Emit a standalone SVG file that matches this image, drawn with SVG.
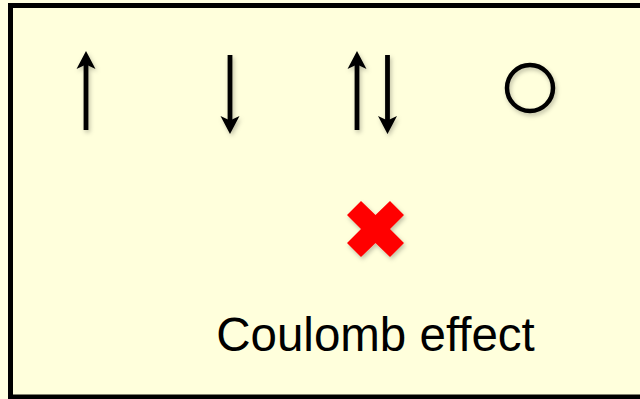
<svg xmlns="http://www.w3.org/2000/svg" width="640" height="399" viewBox="0 0 640 399">
<style>
.sh{stroke:#000;stroke-width:4.8;fill:none}
.hd{fill:#000}
.lbl{font-family:"Liberation Sans",Arial,sans-serif;font-size:47.5px;fill:#000}
</style>
<defs>
<filter id="ds" x="-50%" y="-50%" width="200%" height="200%">
<feDropShadow dx="1.5" dy="2.5" stdDeviation="2" flood-color="#000" flood-opacity="0.25"/>
</filter>
</defs>
<rect x="0" y="0" width="640" height="399" fill="#FFFFE0"/>
<rect id="frame" x="10.5" y="5.5" width="660" height="391.5" fill="#FFFFDC" stroke="#000" stroke-width="5"/>
<g id="connectors" filter="url(#ds)">
<g id="up1"><line class="sh" x1="86" y1="130" x2="86" y2="62"/><polygon class="hd" points="86,51 95.5,69 86,64.5 76.5,69"/></g>
<g id="down1"><line class="sh" x1="230" y1="55" x2="230" y2="123"/><polygon class="hd" points="230,134 239.5,116 230,120.5 220.5,116"/></g>
<g id="up2"><line class="sh" x1="357" y1="130" x2="357" y2="62"/><polygon class="hd" points="357,51 366.5,69 357,64.5 347.5,69"/></g>
<g id="down2"><line class="sh" x1="387.5" y1="55" x2="387.5" y2="123"/><polygon class="hd" points="387.5,134 397,116 387.5,120.5 378,116"/></g>
</g>
<g id="empty" filter="url(#ds)"><circle cx="530" cy="88" r="23" fill="none" stroke="#000" stroke-width="4.5"/></g>
<g id="cross" filter="url(#ds)"><polygon fill="#FF0000" points="347,215 361,201 375.5,215 390,201 404,215 390,229 404,243 390,257 375.5,243 361,257 347,243 361,229"/></g>
<g id="label"><text class="lbl" x="375.5" y="351" text-anchor="middle">Coulomb effect</text></g>
</svg>
